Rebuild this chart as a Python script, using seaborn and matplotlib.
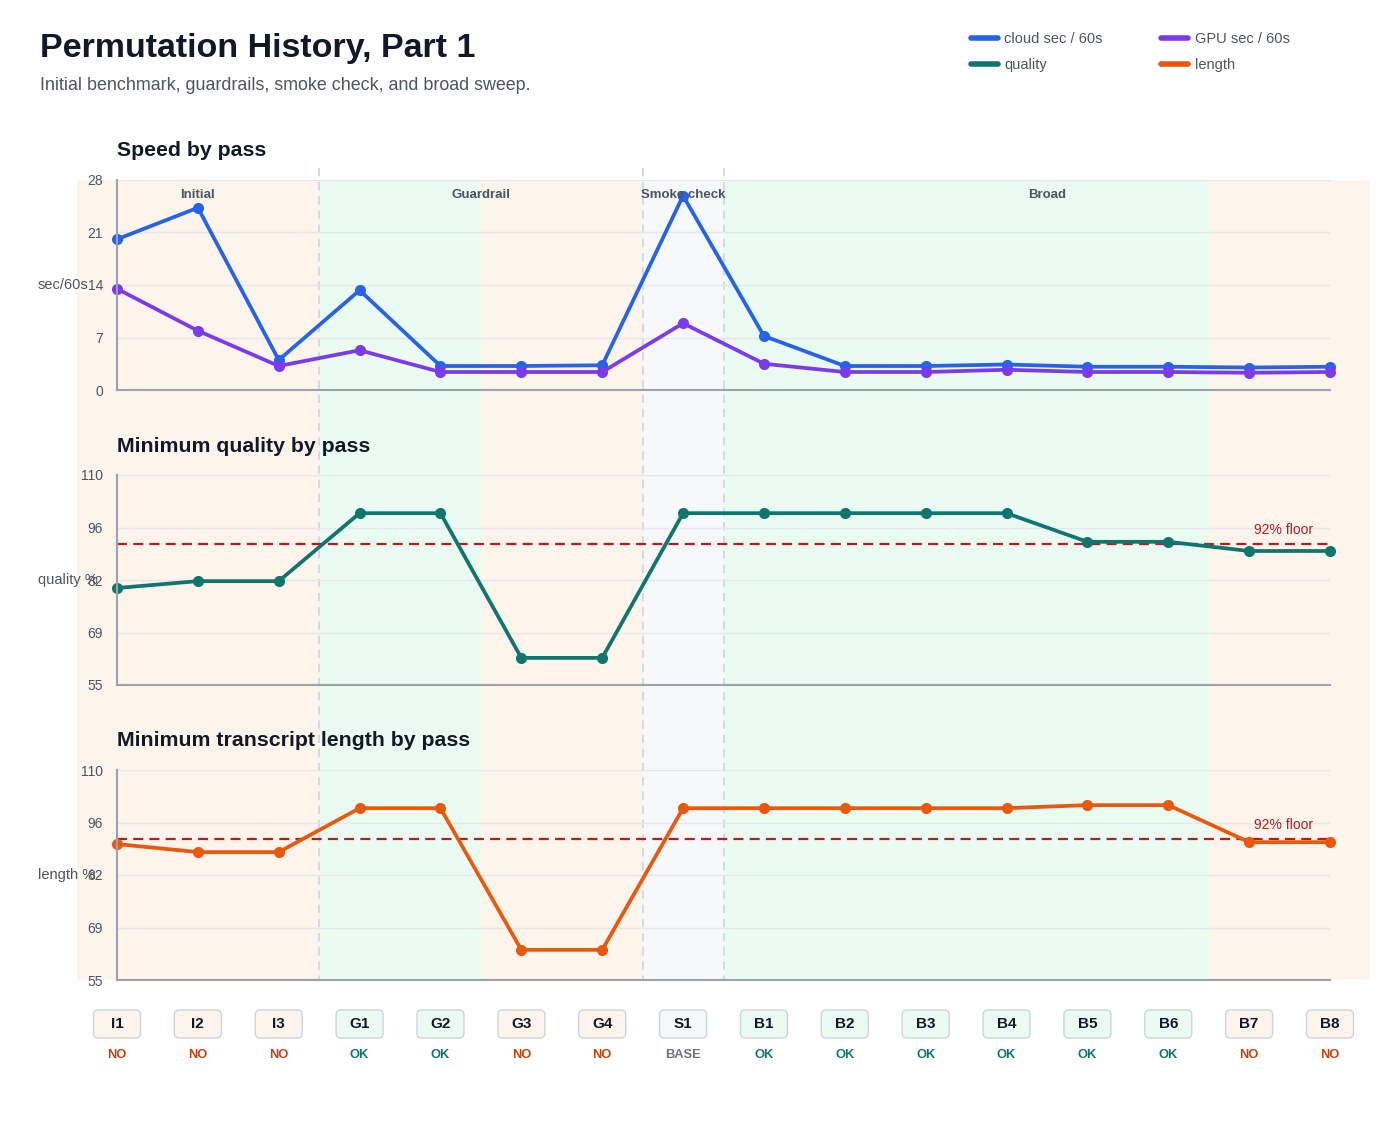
import matplotlib
matplotlib.use('Agg')
import matplotlib.pyplot as plt
import matplotlib.transforms as mtransforms
from matplotlib.lines import Line2D
from matplotlib.patches import Rectangle, FancyBboxPatch
import pandas as pd
import seaborn as sns

# data
passes = ['I1', 'I2', 'I3', 'G1', 'G2', 'G3', 'G4', 'S1',
          'B1', 'B2', 'B3', 'B4', 'B5', 'B6', 'B7', 'B8']
status = ['NO', 'NO', 'NO', 'OK', 'OK', 'NO', 'NO', 'BASE',
          'OK', 'OK', 'OK', 'OK', 'OK', 'OK', 'NO', 'NO']
phase_of = ['Initial'] * 3 + ['Guardrail'] * 4 + ['Smoke check'] + ['Broad'] * 8
cloud_sec = [20.1, 24.3, 4.0, 13.3, 3.2, 3.2, 3.3, 25.9, 7.2, 3.2, 3.2, 3.4, 3.1, 3.1, 3.0, 3.1]
gpu_sec = [13.5, 7.9, 3.2, 5.3, 2.4, 2.4, 2.4, 8.9, 3.5, 2.4, 2.4, 2.7, 2.4, 2.4, 2.3, 2.4]
quality = [80.4, 82.2, 82.2, 100, 100, 62.1, 62.1, 100, 100, 100, 100, 100, 92.5, 92.5, 90.1, 90.1]
length = [90.6, 88.5, 88.5, 100, 100, 62.9, 62.9, 100, 100, 100, 100, 100, 100.8, 100.8, 91.1, 91.1]
floor = 92

df = pd.DataFrame({'idx': range(len(passes)), 'cloud': cloud_sec, 'gpu': gpu_sec,
                   'quality': quality, 'length': length})

# colours
C_CLOUD, C_GPU, C_QUAL, C_LEN = '#2563eb', '#7c3aed', '#0f766e', '#ea580c'
C_FLOOR = '#b91c1c'
band_col = {'NO': '#fdf4eb', 'OK': '#eafbf2', 'BASE': '#f6f8fa'}
status_col = {'NO': '#c2410c', 'OK': '#0f766e', 'BASE': '#6b7280'}
TXT = '#111827'
MUTED = '#4b5563'

sns.set_theme(style='white')
plt.rcParams['font.family'] = ['Liberation Sans', 'DejaVu Sans']

W_PX, H_PX = 1400, 1140
fig = plt.figure(figsize=(W_PX / 100, H_PX / 100), dpi=100)

def fy(px):
    return 1 - px / H_PX

left = 117 / W_PX
width = 1213 / W_PX
panel_h = 210 / H_PX
ax1 = fig.add_axes([left, fy(390), width, panel_h])
ax2 = fig.add_axes([left, fy(685), width, panel_h])
ax3 = fig.add_axes([left, fy(980), width, panel_h])
axes = [ax1, ax2, ax3]

n = len(passes)
blend = mtransforms.blended_transform_factory(ax1.transData, fig.transFigure)

# status bands across all panels
start = 0
for i in range(1, n + 1):
    if i == n or status[i] != status[start]:
        fig.add_artist(Rectangle((start - 0.5, fy(980)), i - start, fy(180) - fy(980),
                                 transform=blend, facecolor=band_col[status[start]],
                                 edgecolor='none', zorder=-2))
        start = i

# phase separators
for i in range(1, n):
    if phase_of[i] != phase_of[i - 1]:
        fig.add_artist(Line2D([i - 0.5, i - 0.5], [fy(168), fy(980)], transform=blend,
                              color='#cbd5e1', lw=1.2, ls=(0, (5, 3.5)), zorder=-1))

for ax in axes:
    ax.set_facecolor('none')
    ax.set_xlim(0, n - 1)
    ax.set_xticks([])
    ax.grid(axis='y', color='#e5e7eb', lw=1)
    for s in ['top', 'right']:
        ax.spines[s].set_visible(False)
    for s in ['left', 'bottom']:
        ax.spines[s].set_color('#9ca3af')
        ax.spines[s].set_linewidth(1.5)
    ax.tick_params(axis='y', length=0, pad=10, labelsize=10, labelcolor=MUTED)

line_kw = dict(marker='o', markersize=8, markeredgewidth=0, linewidth=2.7)
sns.lineplot(data=df, x='idx', y='cloud', ax=ax1, color=C_CLOUD, **line_kw)
sns.lineplot(data=df, x='idx', y='gpu', ax=ax1, color=C_GPU, **line_kw)
sns.lineplot(data=df, x='idx', y='quality', ax=ax2, color=C_QUAL, **line_kw)
sns.lineplot(data=df, x='idx', y='length', ax=ax3, color=C_LEN, **line_kw)
for ax in axes:
    for ln in ax.lines:
        ln.set_clip_on(False)
    ax.set_xlabel('')

ax1.set_ylim(0, 28)
ax1.set_yticks([0, 7, 14, 21, 28])
for ax in (ax2, ax3):
    ax.set_ylim(55, 110)
    ax.set_yticks([55, 68.75, 82.5, 96.25, 110])
    ax.set_yticklabels(['55', '69', '82', '96', '110'])
    ax.axhline(floor, color=C_FLOOR, lw=1.6, ls=(0, (4.5, 2.8)), zorder=1.5)
    ax.text(14.43, floor + 14 * 55 / 210, '92% floor', ha='center', va='center',
            fontsize=10, color=C_FLOOR)

for ax, title, ylab in [(ax1, 'Speed by pass', 'sec/60s'),
                        (ax2, 'Minimum quality by pass', 'quality %'),
                        (ax3, 'Minimum transcript length by pass', 'length %')]:
    ax.text(0, 1 + 29 / 210, title, transform=ax.transAxes, ha='left', va='center',
            fontsize=15.3, fontweight='bold', color=TXT)
    ax.set_ylabel(ylab, rotation=0, ha='left', va='center', fontsize=10.5, color=MUTED)
    ax.yaxis.set_label_coords((38 - 117) / 1213, 0.5)

# phase labels
for ph in dict.fromkeys(phase_of):
    idx = [i for i, p in enumerate(phase_of) if p == ph]
    ax1.text(sum(idx) / len(idx), 1 - 15 / 210, ph,
             transform=mtransforms.blended_transform_factory(ax1.transData, ax1.transAxes),
             ha='center', va='center', fontsize=9.5, fontweight='bold', color=MUTED)

# pass chips below the panels
bw, bh = 47 / 80.87, 28 / H_PX
r = 0.06
for i, (p, st) in enumerate(zip(passes, status)):
    fig.add_artist(FancyBboxPatch((i - bw / 2, fy(1024) - bh / 2), bw, bh,
                                  boxstyle=f'round,pad=0,rounding_size={r}',
                                  mutation_aspect=(4.8 / H_PX) / r, transform=blend,
                                  facecolor=band_col[st], edgecolor='#cbd5e1', lw=1))
    fig.text(i, fy(1024), p, transform=blend, ha='center', va='center',
             fontsize=11, fontweight='bold', color=TXT)
    fig.text(i, fy(1055), st, transform=blend, ha='center', va='center',
             fontsize=9.3, fontweight='bold', color=status_col[st])

# header
fig.text(40 / W_PX, fy(48), 'Permutation History, Part 1', ha='left', va='center',
         fontsize=24.5, fontweight='bold', color=TXT)
fig.text(40 / W_PX, fy(85), 'Initial benchmark, guardrails, smoke check, and broad sweep.',
         ha='left', va='center', fontsize=12.9, color=MUTED)

handles = [Line2D([], [], color=C_CLOUD, lw=4), Line2D([], [], color=C_QUAL, lw=4),
           Line2D([], [], color=C_GPU, lw=4), Line2D([], [], color=C_LEN, lw=4)]
labels = ['cloud sec / 60s', 'quality', 'GPU sec / 60s', 'length']
fig.legend(handles, labels, loc='upper left', bbox_to_anchor=(965 / W_PX, fy(26)),
           ncol=2, frameon=False, fontsize=10.5, labelcolor=MUTED, handlelength=1.85,
           handletextpad=0.45, columnspacing=4.0, labelspacing=0.85, borderaxespad=0)

fig.savefig('out.png', dpi=100)
